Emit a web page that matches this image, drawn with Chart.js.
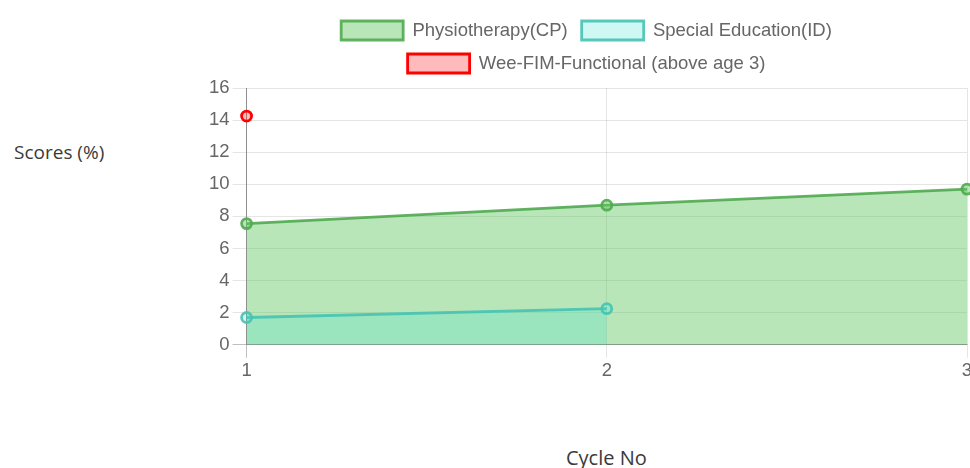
<!DOCTYPE html>
<html>
<head>
<meta charset="utf-8">
<script src="https://cdn.jsdelivr.net/npm/chart.js@4.4.0/dist/chart.umd.min.js"></script>
<style>
  html, body { margin: 0; padding: 0; background: #fff; overflow: hidden; }
  body { width: 970px; height: 468px; position: relative; }
  #wrap { position: absolute; left: 206px; top: 0; width: 774px; height: 392px; }
  .axis-title { position: absolute; font-family: "Open Sans", "Noto Sans", sans-serif; color: #3a3a3a; white-space: nowrap; }
  #ytitle { left: 14px; top: 139px; font-size: 19px; }
  #xtitle { left: 566px; top: 444px; font-size: 20px; }
</style>
</head>
<body>
<div class="axis-title" id="ytitle">Scores (%)</div>
<div id="wrap"><canvas id="chart"></canvas></div>
<div class="axis-title" id="xtitle">Cycle No</div>
<script>
/* Line chart: scores per cycle, three programmes */

const CYCLES = ['1', '2', '3'];
const SERIES_NAMES = ['Physiotherapy(CP)', 'Special Education(ID)', 'Wee-FIM-Functional (above age 3)'];
const PHYSIO = [7.55, 8.7, 9.7];
const SPECIAL_ED = [1.7, 2.25, null];
const WEEFIM = [14.25, null, null];
const Y_MIN = 0, Y_MAX = 16, Y_STEP = 2;

const FONT = '"Liberation Sans", Arial, sans-serif';

function makeSet(label, data, border, fill, order) {
  return {
    label,
    data,
    borderColor: border,
    backgroundColor: fill,
    pointBackgroundColor: fill,
    pointBorderColor: border,
    borderWidth: 2.8,
    pointRadius: 5,
    pointBorderWidth: 2.8,
    tension: 0,
    fill: 'origin',
    spanGaps: false,
    order,
  };
}

const gridColor = ctx => (ctx.index === 0 ? 'rgba(0,0,0,0.25)' : 'rgba(0,0,0,0.1)');

// a little extra room under the legend
const legendGap = {
  id: 'legendGap',
  beforeInit(chart) {
    const fit = chart.legend.fit;
    chart.legend.fit = function () {
      fit.bind(chart.legend)();
      this.height += 5;
    };
  },
};

new Chart(document.getElementById('chart'), {
  type: 'line',
  data: {
    labels: CYCLES,
    datasets: [
      makeSet(SERIES_NAMES[0], PHYSIO, 'rgba(80,170,80,0.9)', 'rgba(100,200,100,0.45)', 3),
      makeSet(SERIES_NAMES[1], SPECIAL_ED, 'rgba(70,195,180,0.9)', 'rgba(64,224,208,0.25)', 2),
      makeSet(SERIES_NAMES[2], WEEFIM, 'rgb(255,0,0)', 'rgba(255,60,60,0.35)', 1),
    ],
  },
  plugins: [legendGap],
  options: {
    responsive: true,
    maintainAspectRatio: false,
    animation: false,
    layout: { padding: { top: 7, right: 13, bottom: 8, left: 0 } },
    plugins: {
      legend: {
        position: 'top',
        labels: {
          color: '#666',
          font: { family: FONT, size: 18.5 },
          boxWidth: 62,
          boxHeight: 19,
          padding: 14,
          sort: (a, b) => a.datasetIndex - b.datasetIndex,
        },
      },
      tooltip: { enabled: false },
    },
    scales: {
      x: {
        grid: { color: gridColor, tickLength: 13 },
        border: { color: 'rgba(0,0,0,0.25)' },
        ticks: { color: '#666', font: { family: FONT, size: 18.5 }, padding: 2, maxRotation: 0 },
      },
      y: {
        min: Y_MIN,
        max: Y_MAX,
        grid: { color: gridColor, tickLength: 14 },
        border: { color: 'rgba(0,0,0,0.25)' },
        ticks: { stepSize: Y_STEP, color: '#666', font: { family: FONT, size: 18.5 }, padding: 3 },
      },
    },
  },
});
</script>
</body>
</html>
